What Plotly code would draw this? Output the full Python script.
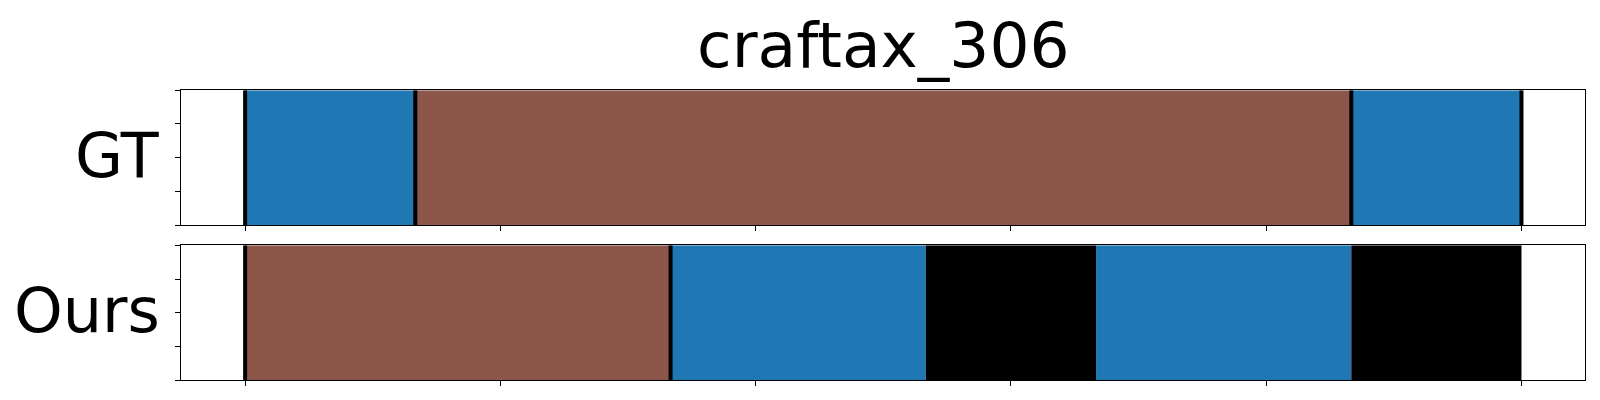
import plotly.graph_objects as go

title = "craftax_306"
row_labels = ["GT", "Ours"]
total_frames = 150
x_ticks = [0, 30, 60, 90, 120, 150]
y_ticks = [0, 0.25, 0.5, 0.75, 1.0]

gt_starts = [0, 20, 130]
gt_ends = [20, 130, 150]
gt_colors = ["#1f77b4", "#8c564b", "#1f77b4"]
gt_boundaries = [0, 20, 130, 150]

ours_starts = [0, 50, 80, 100, 130]
ours_ends = [50, 80, 100, 130, 150]
ours_colors = ["#8c564b", "#1f77b4", "#000000", "#1f77b4", "#000000"]
ours_boundaries = [0, 50]

W, H = 1600, 400
OFF = 8  # page body offset
left_px, right_px = 181.3 - OFF, 1585.3 - OFF
domains_px = [(90.3 - OFF, 225.0 - OFF), (245.3 - OFF, 380.3 - OFF)]

fig = go.Figure()

rows = [
    (gt_starts, gt_ends, gt_colors, gt_boundaries),
    (ours_starts, ours_ends, ours_colors, ours_boundaries),
]

for i, (starts, ends, colors, bounds) in enumerate(rows):
    xa = "x" if i == 0 else f"x{i+1}"
    ya = "y" if i == 0 else f"y{i+1}"
    fig.add_trace(go.Bar(
        orientation="h",
        y=[0.5] * len(starts),
        base=starts,
        x=[e - s for s, e in zip(starts, ends)],
        width=1.0,
        marker=dict(color=colors, line=dict(width=0)),
        xaxis=xa, yaxis=ya, showlegend=False, hoverinfo="skip",
    ))
    for b in bounds:
        fig.add_trace(go.Scatter(
            x=[b, b], y=[0, 1], mode="lines",
            line=dict(color="black", width=4),
            xaxis=xa, yaxis=ya, showlegend=False, hoverinfo="skip",
        ))

pad = 0.05 * total_frames
layout = dict(
    width=W, height=H,
    margin=dict(l=0, r=0, t=0, b=0),
    paper_bgcolor="white", plot_bgcolor="white",
    barmode="overlay",
    font=dict(family="DejaVu Sans", color="black"),
)
annotations = []
for i, (top, bot) in enumerate(domains_px):
    xk = "xaxis" if i == 0 else f"xaxis{i+1}"
    yk = "yaxis" if i == 0 else f"yaxis{i+1}"
    ya = "y" if i == 0 else f"y{i+1}"
    layout[xk] = dict(
        domain=[left_px / W, right_px / W],
        range=[-pad, total_frames + pad],
        anchor=ya,
        tickmode="array", tickvals=x_ticks, showticklabels=False,
        ticks="outside", ticklen=5, tickwidth=1, tickcolor="black",
        showline=True, linecolor="black", linewidth=1.2, mirror=True,
        showgrid=False, zeroline=False, fixedrange=True,
    )
    layout[yk] = dict(
        domain=[(H - bot) / H, (H - top) / H],
        range=[0, 1],
        anchor="x" if i == 0 else f"x{i+1}",
        tickmode="array", tickvals=y_ticks, showticklabels=False,
        ticks="outside", ticklen=5, tickwidth=1, tickcolor="black",
        showline=True, linecolor="black", linewidth=1.2, mirror=True,
        showgrid=False, zeroline=False, fixedrange=True,
    )
    annotations.append(dict(
        text=row_labels[i], xref="paper", yref="paper",
        x=(161.5 - OFF) / W, y=(H - ((top + bot) / 2 - 2)) / H,
        xanchor="right", yanchor="middle", showarrow=False,
        font=dict(size=62, family="DejaVu Sans", color="black"),
    ))

annotations.append(dict(
    text=title, xref="paper", yref="paper",
    x=(left_px + right_px) / 2 / W, y=1.0,
    xanchor="center", yanchor="top", showarrow=False, borderpad=0,
    font=dict(size=63, family="DejaVu Sans", color="black"),
))
layout["annotations"] = annotations
fig.update_layout(**layout)

fig.write_html("out.html")
